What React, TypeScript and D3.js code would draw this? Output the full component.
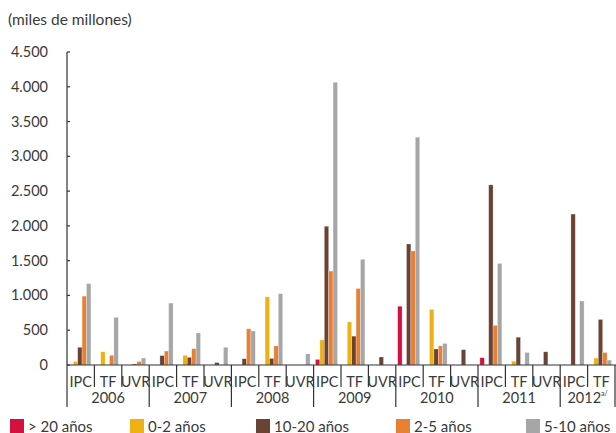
import React from "react";
import * as d3 from "d3";

const years = ["2006", "2007", "2008", "2009", "2010", "2011", "2012"];
const subTypes = ["IPC", "TF", "UVR", "IPC", "TF", "UVR", "IPC", "TF", "UVR", "IPC", "TF", "UVR", "IPC", "TF", "UVR", "IPC", "TF", "UVR", "IPC", "TF"];
const subYears = ["2006", "2006", "2006", "2007", "2007", "2007", "2008", "2008", "2008", "2009", "2009", "2009", "2010", "2010", "2010", "2011", "2011", "2011", "2012", "2012"];

const seriesNames = ["> 20 años", "0-2 años", "10-20 años", "2-5 años", "5-10 años"];
const seriesColors = ["#d3103f", "#eeb111", "#6b4335", "#e97f30", "#a6a6a9"];

const gt20 = [0, 0, 0, 0, 0, 0, 0, 0, 0, 80, 0, 0, 845, 0, 0, 105, 0, 0, 0, 0];
const y0to2 = [50, 190, 0, 0, 140, 0, 0, 980, 0, 360, 620, 0, 0, 800, 0, 0, 55, 0, 0, 100];
const y10to20 = [255, 0, 15, 135, 110, 35, 90, 95, 0, 1995, 415, 115, 1740, 230, 220, 2590, 400, 190, 2170, 655];
const y2to5 = [990, 140, 50, 200, 235, 0, 520, 275, 0, 1350, 1100, 0, 1640, 275, 0, 570, 0, 0, 0, 180];
const y5to10 = [1170, 685, 100, 890, 460, 255, 490, 1025, 160, 4065, 1520, 0, 3275, 310, 0, 1460, 180, 0, 920, 70];

const seriesValues = [gt20, y0to2, y10to20, y2to5, y5to10];
const yTicks = [0, 500, 1000, 1500, 2000, 2500, 3000, 3500, 4000, 4500];

const W = 616;
const H = 433;
const FONT = "Lato, 'Open Sans', sans-serif";
const TEXT = "#3a3a3a";
const AXIS = "#333";

export default function App() {
  const left = 67;
  const right = 615;
  const top = 52;
  const bottom = 365;

  const keys = subTypes.map((_, i) => String(i));
  const x = d3.scaleBand<string>().domain(keys).range([left, right]).padding(0);
  const inner = d3
    .scaleBand<string>()
    .domain(seriesNames)
    .range([0, x.bandwidth()])
    .paddingInner(0)
    .paddingOuter(0.614)
    .align(0.35);
  const y = d3.scaleLinear().domain([0, 4500]).range([bottom, top]);
  const fmt = d3.formatLocale({ decimal: ",", thousands: ".", grouping: [3], currency: ["$", ""] }).format(",d");

  const yearSpans = years.map((yr) => {
    const idx = subYears.map((s, i) => (s === yr ? i : -1)).filter((i) => i >= 0);
    const x0 = x(String(idx[0]))!;
    const x1 = x(String(idx[idx.length - 1]))! + x.bandwidth();
    return { yr, x0, x1 };
  });

  const legendX = [10, 130, 256, 396, 526];

  return (
    <svg width={W} height={H} style={{ position: "absolute", left: 0, top: 0, background: "#fff" }} fontFamily={FONT}>
      <text x={8} y={25} fontSize={15.5} fill={TEXT}>(miles de millones)</text>

      {/* y axis */}
      <line x1={left} x2={left} y1={top} y2={407} stroke={AXIS} strokeWidth={1.2} />
      {yTicks.map((t) => (
        <g key={t}>
          <line x1={left} x2={left + 3} y1={y(t)} y2={y(t)} stroke={AXIS} strokeWidth={1.2} />
          <text x={48} y={y(t) + 5} fontSize={14.5} textAnchor="end" fill={TEXT}>{fmt(t)}</text>
        </g>
      ))}

      {/* bars */}
      {seriesValues.map((vals, si) =>
        vals.map((v, i) =>
          v > 0 ? (
            <rect
              key={`${si}-${i}`}
              x={x(String(i))! + inner(seriesNames[si])!}
              y={y(v)}
              width={inner.bandwidth()}
              height={bottom - y(v)}
              fill={seriesColors[si]}
              stroke="#fff"
              strokeOpacity={0.45}
              strokeWidth={0.6}
            />
          ) : null
        )
      )}

      {/* x axis */}
      <line x1={left} x2={right + 1} y1={bottom} y2={bottom} stroke={AXIS} strokeWidth={1.2} />
      {keys.map((k, i) => {
        const xe = x(k)! + x.bandwidth();
        const isYearEnd = i === keys.length - 1 || subYears[i + 1] !== subYears[i];
        return (
          <g key={k}>
            <line x1={xe} x2={xe} y1={bottom} y2={isYearEnd ? 407 : 387} stroke={AXIS} strokeWidth={1.2} />
            <text x={x(k)! + x.bandwidth() / 2} y={386.5} fontSize={14.5} textAnchor="middle" fill={TEXT}>{subTypes[i]}</text>
          </g>
        );
      })}
      {yearSpans.map((s) => (
        <text key={s.yr} x={(s.x0 + s.x1) / 2} y={403} fontSize={14.5} textAnchor="middle" fill={TEXT}>
          {s.yr}
          {s.yr === "2012" ? <tspan fontSize={7} dy={-7}>a/</tspan> : null}
        </text>
      ))}

      {/* legend */}
      {seriesNames.map((n, i) => (
        <g key={n}>
          <rect x={legendX[i]} y={419} width={14} height={14} fill={seriesColors[i]} />
          <text x={legendX[i] + 18} y={431.5} fontSize={15} fill={TEXT}>{n}</text>
        </g>
      ))}
    </svg>
  );
}
